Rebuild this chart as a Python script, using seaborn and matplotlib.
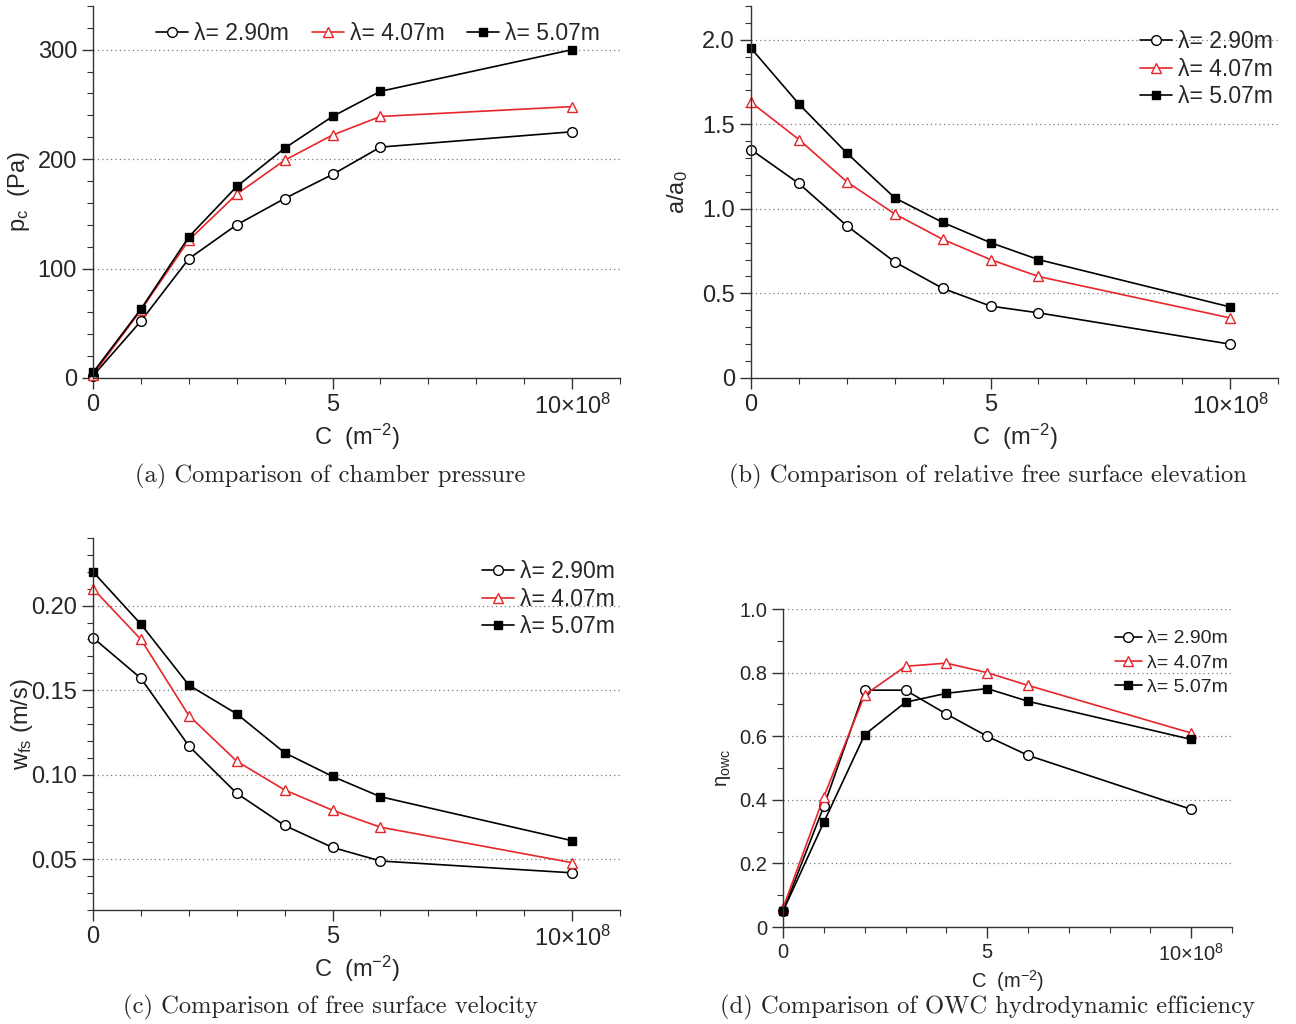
import matplotlib
matplotlib.use("Agg")
import matplotlib.pyplot as plt
import seaborn as sns
from matplotlib.ticker import MultipleLocator, FixedLocator, FuncFormatter

# ---------------- data ----------------
C = [0, 1, 2, 3, 4, 5, 6, 10]  # x 10^8 m^-2
series_labels = ["λ= 2.90m", "λ= 4.07m", "λ= 5.07m"]

pc_290 = [2, 52, 109, 140, 164, 186, 211, 225]
pc_407 = [3, 62, 126, 168, 199, 222, 239, 248]
pc_507 = [5, 63, 129, 175, 210, 239, 262, 300]

aa0_290 = [1.35, 1.15, 0.90, 0.686, 0.53, 0.425, 0.385, 0.20]
aa0_407 = [1.63, 1.41, 1.16, 0.97, 0.82, 0.70, 0.60, 0.355]
aa0_507 = [1.95, 1.62, 1.33, 1.065, 0.92, 0.80, 0.70, 0.42]

wfs_290 = [0.181, 0.157, 0.117, 0.089, 0.070, 0.057, 0.049, 0.042]
wfs_407 = [0.210, 0.180, 0.135, 0.108, 0.091, 0.079, 0.069, 0.048]
wfs_507 = [0.220, 0.189, 0.153, 0.136, 0.113, 0.099, 0.087, 0.061]

eta_290 = [0.05, 0.38, 0.745, 0.745, 0.67, 0.60, 0.54, 0.37]
eta_407 = [0.06, 0.41, 0.73, 0.82, 0.83, 0.80, 0.76, 0.61]
eta_507 = [0.05, 0.33, 0.605, 0.707, 0.735, 0.75, 0.71, 0.59]

captions = ["(a) Comparison of chamber pressure",
            "(b) Comparison of relative free surface elevation",
            "(c) Comparison of free surface velocity",
            "(d) Comparison of OWC hydrodynamic efficiency"]

# ---------------- style ----------------
sns.set_style("ticks")
plt.rcParams.update({
    "font.family": ["Liberation Sans", "DejaVu Sans"],
    "mathtext.fontset": "custom",
    "mathtext.rm": "Liberation Sans",
    "mathtext.it": "Liberation Sans:italic",
    "mathtext.bf": "Liberation Sans:bold",
    "axes.edgecolor": "#333333",
    "axes.linewidth": 1.0,
    "xtick.direction": "out",
    "ytick.direction": "out",
})

styles = [
    dict(color="black", marker="o", markerfacecolor="white", markeredgecolor="black", ms=7),
    dict(color="#e8262a", marker="^", markerfacecolor="white", markeredgecolor="#e8262a", ms=6.5),
    dict(color="black", marker="s", markerfacecolor="black", markeredgecolor="black", ms=6),
]

fig = plt.figure(figsize=(12.96, 10.24), dpi=100)

W1 = 0.4066
H1 = 0.3633
ax_a = fig.add_axes([0.0718, 0.6309, W1, H1])
ax_b = fig.add_axes([0.5795, 0.6309, W1, H1])
ax_c = fig.add_axes([0.0718, 0.1113, W1, H1])
ax_d = fig.add_axes([0.6042, 0.0947, 0.3465, 0.3105])


def fmt_factory(dec):
    def f(v, p):
        if abs(v) < 1e-12:
            return "0"
        return f"{v:.{dec}f}"
    return f


def xfmt(v, p):
    if abs(v - 10) < 1e-9:
        return "10×10$^{8}$"
    return f"{v:g}"


def draw(ax, data, ylim, ymaj, ymin, ydec, ylabel, fs, lfs, leg_kw, ylab_x):
    for vals, lab, st in zip(data, series_labels, styles):
        sns.lineplot(x=C, y=vals, ax=ax, label=lab, color=st["color"],
                     marker=st["marker"], markerfacecolor=st["markerfacecolor"],
                     markeredgecolor=st["markeredgecolor"], markersize=st["ms"],
                     markeredgewidth=1.0, linewidth=1.2, clip_on=False)
    ax.set_xlim(0, 11)
    ax.set_ylim(*ylim)
    ax.xaxis.set_major_locator(FixedLocator([0, 5, 10]))
    ax.xaxis.set_minor_locator(MultipleLocator(1))
    ax.xaxis.set_major_formatter(FuncFormatter(xfmt))
    ax.yaxis.set_major_locator(MultipleLocator(ymaj))
    ax.yaxis.set_minor_locator(MultipleLocator(ymin))
    ax.yaxis.set_major_formatter(FuncFormatter(fmt_factory(ydec)))
    ax.tick_params(which="major", length=8, width=1.0, labelsize=fs, color="#333333")
    ax.tick_params(which="minor", length=4, width=0.8, color="#333333")
    ax.grid(axis="y", which="major", linestyle=(0, (1, 2.5)), color="#777777", linewidth=0.9)
    ax.set_axisbelow(True)
    for s in ["top", "right"]:
        ax.spines[s].set_visible(False)
    ax.set_xlabel("C  (m$^{-2}$)", fontsize=fs, labelpad=2)
    ax.set_ylabel(ylabel, fontsize=fs)
    ax.yaxis.set_label_coords(ylab_x, 0.5)
    ax.legend(frameon=False, fontsize=lfs, borderpad=0, borderaxespad=0,
              handletextpad=0.25, **leg_kw)


draw(ax_a, [pc_290, pc_407, pc_507], (0, 340), 100, 20, 0,
     "p$_\\mathrm{c}$  (Pa)", 17, 16.5,
     dict(loc="upper right", bbox_to_anchor=(0.962, 0.958), ncol=3,
          handlelength=1.4, columnspacing=1.0), -0.116)
draw(ax_b, [aa0_290, aa0_407, aa0_507], (0, 2.2), 0.5, 0.1, 1,
     "a/a$_\\mathrm{0}$", 17, 16.5,
     dict(loc="upper right", bbox_to_anchor=(0.99, 0.935), ncol=1,
          handlelength=1.4, labelspacing=0.2), -0.116)
draw(ax_c, [wfs_290, wfs_407, wfs_507], (0.02, 0.24), 0.05, 0.01, 2,
     "w$_\\mathrm{fs}$ (m/s)", 17, 16.5,
     dict(loc="upper right", bbox_to_anchor=(0.99, 0.94), ncol=1,
          handlelength=1.4, labelspacing=0.2), -0.11)
draw(ax_d, [eta_290, eta_407, eta_507], (0, 1.0), 0.2, 0.1, 1,
     "η$_\\mathrm{owc}$", 14.5, 14,
     dict(loc="upper right", bbox_to_anchor=(0.99, 0.935), ncol=1,
          handlelength=1.4, labelspacing=0.35), -0.111)

# captions
cap_font = dict(fontsize=17.7, family=["cmr10", "DejaVu Serif"], ha="center", va="center")
fig.text(330 / 1296, 1 - 476 / 1024, captions[0], **cap_font)
fig.text(988 / 1296, 1 - 476 / 1024, captions[1], **cap_font)
fig.text(330 / 1296, 1 - 1007 / 1024, captions[2], **cap_font)
fig.text(988 / 1296, 1 - 1007 / 1024, captions[3], **cap_font)

fig.savefig("out.png", dpi=100)
